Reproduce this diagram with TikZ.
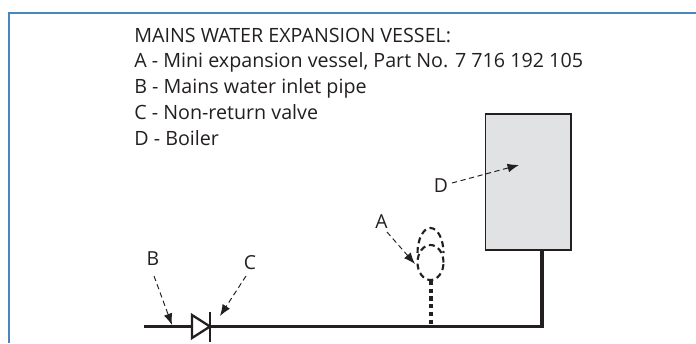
\documentclass[tikz,border=0pt]{standalone}
\usepackage{fontspec}
\setmainfont{Open Sans}
\usetikzlibrary{arrows.meta}
\definecolor{framebl}{HTML}{4A86BE}
\definecolor{inkdk}{HTML}{231F20}
\definecolor{boilergr}{HTML}{E1E2E3}
\tikzset{
  pipe/.style={line width=1.9pt,draw=inkdk},
  callout/.style={densely dashed,line width=0.55pt,draw=inkdk,-{Latex[length=6.5pt,width=5pt]}},
  letter/.style={inner sep=0pt,text=inkdk,font=\fontsize{11}{13}\selectfont},
  txtline/.style={anchor=base west,inner sep=0pt,text=inkdk,font=\fontsize{11.2}{13}\selectfont}
}
\begin{document}
\begin{tikzpicture}
\useasboundingbox (0,0) rectangle (13.92,6.86);
\draw[framebl,line width=1.1pt] (0.18,0)--(0.18,6.6)--(13.92,6.6);
\foreach \i/\y/\lab in {0/6.02/MAINS WATER EXPANSION VESSEL:,1/5.506/A - Mini expansion vessel{,} Part No. 7 716 192 105,2/4.994/B - Mains water inlet pipe,3/4.48/C - Non-return valve,4/3.96/D - Boiler} {
\node[txtline] (line\i) at (2.68,\y) {\lab};
}
\node[draw=inkdk,fill=boilergr,line width=1.1pt,minimum width=1.71cm,minimum height=2.73cm,inner sep=0pt] (boiler) at (10.565,3.22) {};
% pipe run
\coordinate (pipestart) at (2.88,0.33);
\coordinate (pipecorner) at (10.84,0.33);
\coordinate (tee) at (8.62,0.33);
\coordinate (vesseltop) at (8.62,1.24);
\draw[pipe] (pipestart)--(pipecorner)--(pipecorner|-boiler.south);
\draw[pipe,dash pattern=on 2.4pt off 2pt] (vesseltop)--(tee);
% valve
\node[inner sep=0pt,minimum size=0pt] (valve) at (4.2,0.33) {};
\fill[white] (3.84,0.56)--(valve.center)--(3.84,0.1)--cycle;
\draw[line width=1.3pt,draw=inkdk] (3.84,0.56)--(valve.center)--(3.84,0.1)--cycle;
\draw[line width=1.3pt,draw=inkdk] (4.2,0.02)--(4.2,0.62);
% vessel
\draw[dash pattern=on 3.4pt off 2.2pt,line width=1.2pt,draw=inkdk] (8.61,1.61) ellipse (0.26 and 0.35);
\draw[dash pattern=on 3.4pt off 2.2pt,line width=1.2pt,draw=inkdk] (8.35,1.8) arc[start angle=180,end angle=0,x radius=0.26,y radius=0.5];
% callouts
\node[letter] (labA) at (7.63,2.42) {A};
\node[letter] (labB) at (3.06,1.68) {B};
\node[letter] (labC) at (5.0,1.6) {C};
\node[letter] (labD) at (8.82,3.14) {D};
\coordinate (tipA) at (8.3,1.58);
\coordinate (tipB) at (3.44,0.36);
\coordinate (tipC) at (4.4,0.54);
\coordinate (tipD) at (10.38,3.56);
\draw[callout] (7.74,2.22)--(tipA);
\draw[callout] (3.08,1.34)--(tipB);
\draw[callout] (4.92,1.34)--(tipC);
\draw[callout] (9.04,3.2)--(tipD);
\end{tikzpicture}
\end{document}
